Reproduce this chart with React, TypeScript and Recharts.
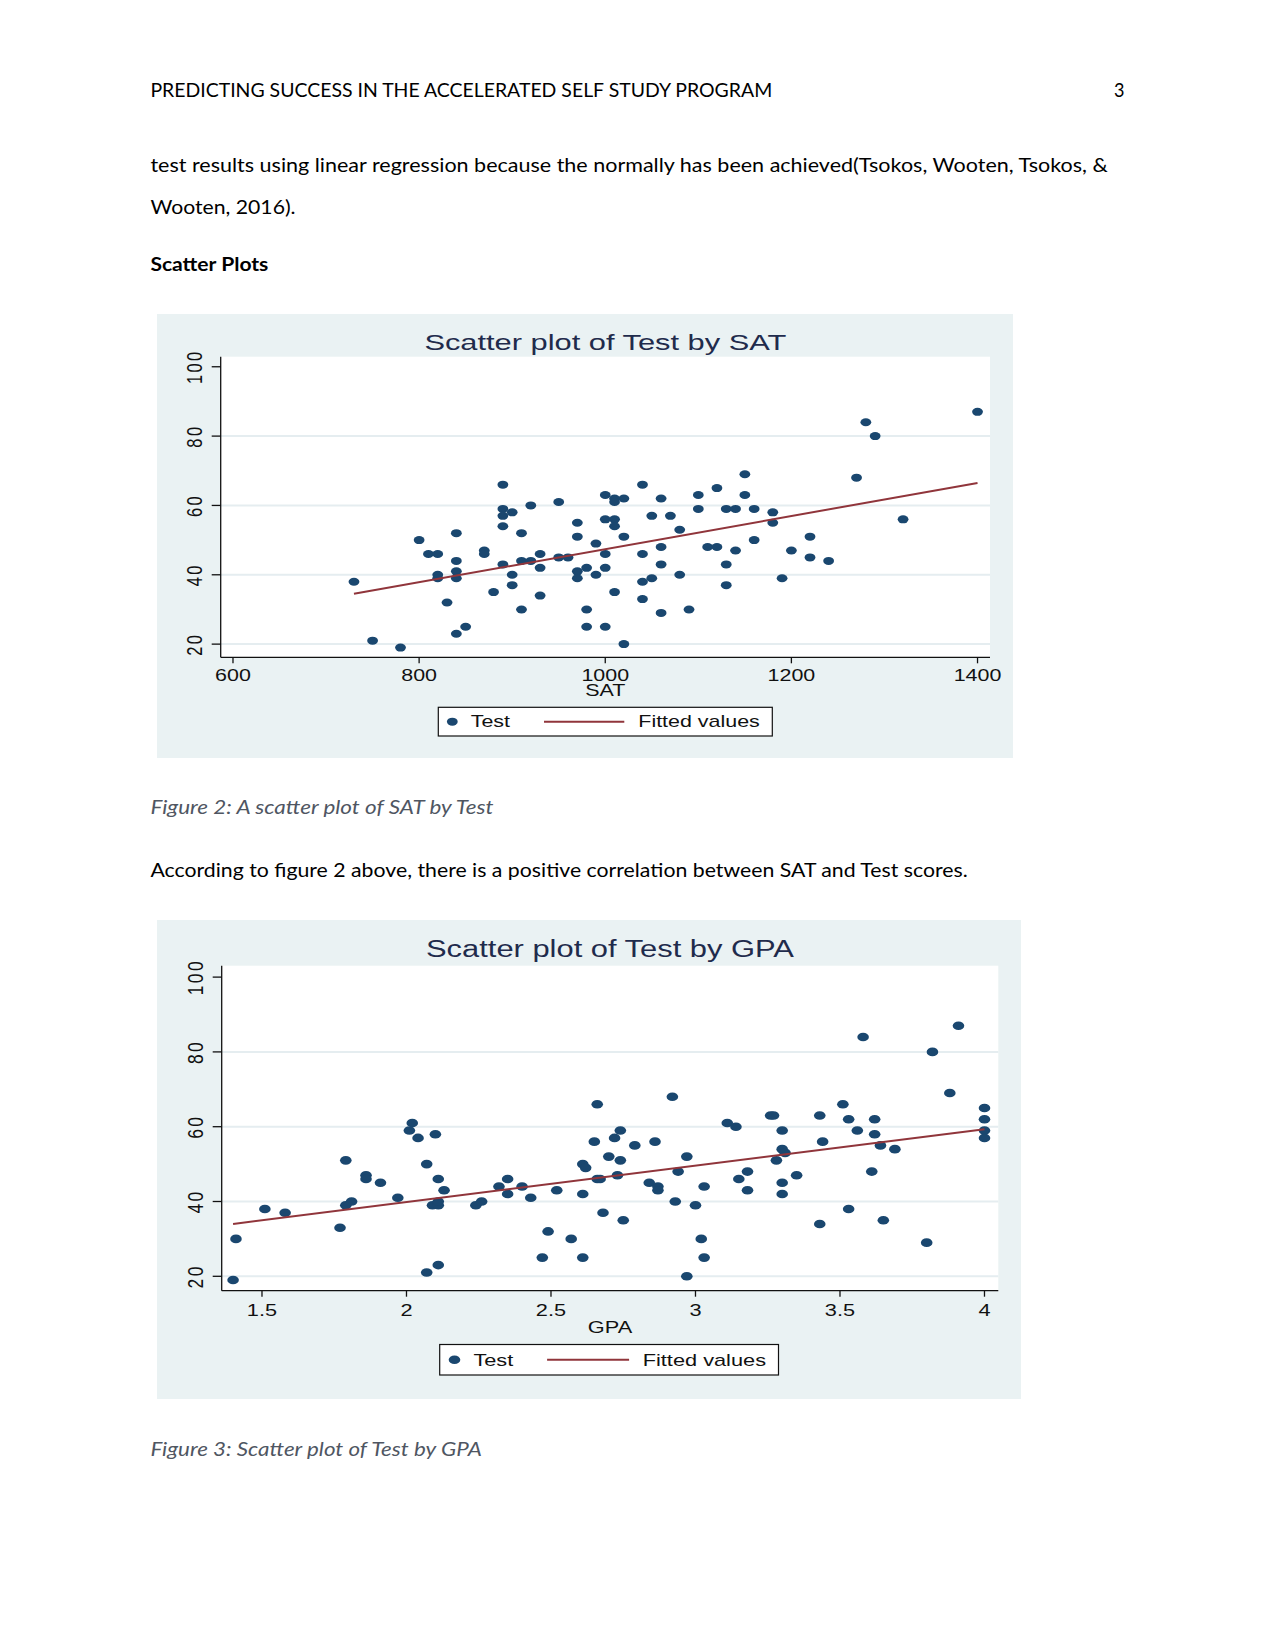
import React from 'react';
import { ScatterChart, Scatter, XAxis, YAxis, CartesianGrid } from 'recharts';

// ---------- data ----------
const satValues = [
  730, 750, 780, 800, 810,
  820, 820, 820, 830,
  840, 840, 840, 840, 840, 850,
  870, 870, 880,
  890, 890, 890, 890, 890,
  900, 900, 900, 910, 910, 910,
  920, 920, 930, 930, 930,
  950, 950, 960,
  970, 970, 970, 970,
  980, 980, 980, 990, 990,
  1000, 1000, 1000, 1000, 1000,
  1010, 1010, 1010, 1010, 1010,
  1020, 1020, 1020,
  1040, 1040, 1040, 1040, 1050, 1050,
  1060, 1060, 1060, 1060, 1070, 1080, 1080, 1090,
  1100, 1100, 1110, 1120, 1120,
  1130, 1130, 1130, 1140, 1140,
  1150, 1150, 1160, 1160, 1180, 1180,
  1190, 1200, 1220, 1220, 1240,
  1270, 1280, 1290, 1320, 1400,
];
const satTestScores = [
  38, 21, 19, 50, 46,
  46, 40, 39, 32,
  52, 44, 41, 39, 23, 25,
  47, 46, 35,
  66, 59, 57, 54, 43,
  58, 40, 37, 52, 44, 30,
  60, 44, 46, 42, 34,
  61, 45, 45,
  55, 51, 41, 39,
  42, 30, 25, 49, 40,
  63, 56, 46, 42, 25,
  62, 61, 56, 54, 35,
  62, 51, 20,
  66, 46, 38, 33, 57, 39,
  62, 48, 43, 29, 57, 53, 40, 30,
  63, 59, 48, 65, 48,
  59, 43, 37, 59, 47,
  69, 63, 59, 50, 58, 55,
  39, 47, 51, 45, 44,
  68, 84, 80, 56, 87,
];
const gpaValues = [
  1.4, 1.41, 1.51, 1.58, 1.77, 1.79, 1.79, 1.81, 1.86, 1.86,
  1.91, 1.97, 2.01, 2.02, 2.04, 2.07, 2.07, 2.1, 2.09, 2.11,
  2.11, 2.11, 2.13, 2.11, 2.24, 2.26, 2.32, 2.35, 2.35, 2.4,
  2.43, 2.47, 2.49, 2.52, 2.57, 2.61, 2.61, 2.62, 2.61, 2.65,
  2.66, 2.66, 2.67, 2.68, 2.7, 2.72, 2.73, 2.74, 2.74, 2.75,
  2.79, 2.84, 2.86, 2.87, 2.87, 2.92, 2.93, 2.94, 2.97, 2.97,
  3.0, 3.02, 3.03, 3.03, 3.11, 3.14, 3.15, 3.18, 3.18, 3.26,
  3.27, 3.28, 3.3, 3.3, 3.31, 3.3, 3.3, 3.35, 3.43, 3.43,
  3.44, 3.51, 3.53, 3.53, 3.56, 3.58, 3.61, 3.62, 3.62, 3.64,
  3.65, 3.69, 3.8, 3.82, 3.88, 3.91, 4.0, 4.0, 4.0, 4.0,
];
const gpaTestScores = [
  19, 30, 38, 37, 33, 51, 39, 40, 47, 46,
  45, 41, 59, 61, 57, 50, 21, 58, 39, 39,
  40, 46, 43, 23, 39, 40, 44, 46, 42, 44,
  41, 25, 32, 43, 30, 25, 50, 49, 42, 56,
  66, 46, 46, 37, 52, 57, 47, 59, 51, 35,
  55, 45, 56, 44, 43, 68, 40, 48, 52, 20,
  39, 30, 44, 25, 61, 60, 46, 48, 43, 63,
  63, 51, 59, 54, 53, 45, 42, 47, 63, 34,
  56, 66, 62, 38, 59, 84, 48, 62, 58, 55,
  35, 54, 29, 80, 69, 87, 65, 62, 59, 57,
];
const satFitX = [730, 1400];
const satFitY = [34.5, 66.5];
const gpaFitX = [1.4, 4.0];
const gpaFitY = [34.0, 59.3];

const satTicks = [600, 800, 1000, 1200, 1400];
const satTickLabels = ['600', '800', '1000', '1200', '1400'];
const gpaTicks = [1.5, 2, 2.5, 3, 3.5, 4];
const gpaTickLabels = ['1.5', '2', '2.5', '3', '3.5', '4'];
const testTicks = [20, 40, 60, 80, 100];
const gridValues = [20, 40, 60, 80];

const legendLabels = ['Test', 'Fitted values'];

// ---------- styles ----------
const NAVY = '#1a476f';
const MAROON = '#90353b';
const BG = '#eaf2f3';
const GRID = '#e5edf0';
const AXIS = '#111111';
const TITLE_COLOR = '#1f2b4c';
const CHART_FONT = '"Liberation Sans", Arial, sans-serif';
const PAGE_FONT = 'Lato, "Open Sans", sans-serif';

type Cfg = {
  left: number; top: number; width: number; height: number;
  plotL: number; plotT: number; plotR: number; plotB: number;
  xDomain: [number, number]; yDomain: [number, number];
  fs: number; sx: number; titleFs: number; titleSx: number; titleBase: number;
  tickBase: number; xTitleBase: number; yLabelOff: number;
  rx: number; ry: number;
  lx: number; ly: number; lw: number; lh: number;
  dDot: number; dTest: number; dL1: number; dL2: number; dFit: number; dBase: number;
};

const cfgSat: Cfg = {
  left: 157, top: 314, width: 856, height: 444,
  plotL: 63.7, plotT: 42.7, plotR: 23, plotB: 100.7,
  xDomain: [586.8, 1413.4], yDomain: [16.2, 102.9],
  fs: 16, sx: 1.34, titleFs: 22.5, titleSx: 1.37, titleBase: 35.5,
  tickBase: 366.7, xTitleBase: 382, yLabelOff: 26.4,
  rx: 5.4, ry: 4.0,
  lx: 281.3, ly: 393.3, lw: 334, lh: 28.7,
  dDot: 14, dTest: 32.4, dL1: 105.7, dL2: 186, dFit: 200, dBase: 20,
};

const cfgGpa: Cfg = {
  left: 157, top: 920, width: 864, height: 479,
  plotL: 64.7, plotT: 45.7, plotR: 22.7, plotB: 108.3,
  xDomain: [1.3606, 4.0478], yDomain: [16.15, 103.05],
  fs: 17, sx: 1.28, titleFs: 23.5, titleSx: 1.315, titleBase: 37.3,
  tickBase: 396, xTitleBase: 413, yLabelOff: 26.4,
  rx: 5.8, ry: 4.3,
  lx: 282.7, ly: 424.5, lw: 338.8, lh: 30.5,
  dDot: 14.8, dTest: 33.7, dL1: 107.4, dL2: 189.4, dFit: 203, dBase: 21.5,
};

function StataScatter(props: {
  cfg: Cfg; xs: number[]; ys: number[]; fitX: number[]; fitY: number[];
  xTicks: number[]; xLabels: string[]; title: string; xTitle: string;
}) {
  const { cfg, xs, ys, fitX, fitY, xTicks, xLabels, title, xTitle } = props;
  const data = xs.map((x, i) => ({ x, y: ys[i] }));
  const fit = fitX.map((x, i) => ({ x, y: fitY[i] }));
  const plotW = cfg.width - cfg.plotL - cfg.plotR;
  const cx = cfg.plotL + plotW / 2;

  const XTick = (p: any) => {
    const idx = xTicks.indexOf(p.payload.value);
    const label = idx >= 0 ? xLabels[idx] : String(p.payload.value);
    return (
      <text
        transform={`translate(${p.x},${cfg.tickBase}) scale(${cfg.sx},1)`}
        textAnchor="middle" fontSize={cfg.fs} fontFamily={CHART_FONT} fill="#111"
      >{label}</text>
    );
  };
  const YTick = (p: any) => (
    <text
      transform={`translate(${cfg.plotL - cfg.yLabelOff},${p.y}) scale(${cfg.sx},1) rotate(-90)`}
      textAnchor="middle" dominantBaseline="central" fontSize={cfg.fs + 0.5}
      fontFamily={CHART_FONT} letterSpacing={2.4} fill="#111"
    >{String(p.payload.value)}</text>
  );
  const Dot = (p: any) => (
    <ellipse cx={p.cx} cy={p.cy} rx={cfg.rx} ry={cfg.ry} fill={NAVY} />
  );
  const NoDot = () => <g />;

  const midY = cfg.ly + cfg.lh / 2;
  return (
    <div style={{ position: 'absolute', left: cfg.left, top: cfg.top, width: cfg.width, height: cfg.height, background: BG }}>
      <ScatterChart width={cfg.width} height={cfg.height}
        margin={{ top: cfg.plotT, right: cfg.plotR, bottom: 0, left: 0 }}>
        <CartesianGrid fill="#ffffff" fillOpacity={1} vertical={false} horizontal={true}
          horizontalValues={gridValues} stroke={GRID} strokeWidth={2} />
        <XAxis type="number" dataKey="x" domain={cfg.xDomain} ticks={xTicks} interval={0}
          allowDataOverflow height={cfg.plotB} tickSize={6} tickMargin={2} tick={XTick}
          axisLine={{ stroke: AXIS, strokeWidth: 1.3 }} tickLine={{ stroke: AXIS, strokeWidth: 1.3 }} />
        <YAxis type="number" dataKey="y" domain={cfg.yDomain} ticks={testTicks} interval={0}
          allowDataOverflow width={cfg.plotL} tickSize={9} tickMargin={2} tick={YTick}
          axisLine={{ stroke: AXIS, strokeWidth: 1.3 }} tickLine={{ stroke: AXIS, strokeWidth: 1.3 }} />
        <Scatter data={data} shape={Dot} isAnimationActive={false} />
        <Scatter data={fit} shape={NoDot} line={{ stroke: MAROON, strokeWidth: 2 }} isAnimationActive={false} />
      </ScatterChart>
      <svg width={cfg.width} height={cfg.height}
        style={{ position: 'absolute', left: 0, top: 0, pointerEvents: 'none' }}>
        <text transform={`translate(${cx},${cfg.titleBase}) scale(${cfg.titleSx},1)`}
          textAnchor="middle" fontSize={cfg.titleFs} fontFamily={CHART_FONT} fill={TITLE_COLOR}>{title}</text>
        <text transform={`translate(${cx},${cfg.xTitleBase}) scale(${cfg.sx},1)`}
          textAnchor="middle" fontSize={cfg.fs} fontFamily={CHART_FONT} fill="#111">{xTitle}</text>
        <rect x={cfg.lx} y={cfg.ly} width={cfg.lw} height={cfg.lh} fill="#ffffff" stroke="#111" strokeWidth={1.2} />
        <ellipse cx={cfg.lx + cfg.dDot} cy={midY} rx={cfg.rx} ry={cfg.ry} fill={NAVY} />
        <text transform={`translate(${cfg.lx + cfg.dTest},${cfg.ly + cfg.dBase}) scale(${cfg.sx},1)`}
          fontSize={cfg.fs} fontFamily={CHART_FONT} fill="#111">{legendLabels[0]}</text>
        <line x1={cfg.lx + cfg.dL1} x2={cfg.lx + cfg.dL2} y1={midY} y2={midY} stroke={MAROON} strokeWidth={2} />
        <text transform={`translate(${cfg.lx + cfg.dFit},${cfg.ly + cfg.dBase}) scale(${cfg.sx},1)`}
          fontSize={cfg.fs} fontFamily={CHART_FONT} fill="#111">{legendLabels[1]}</text>
      </svg>
    </div>
  );
}

function PageText(p: { x: number; y: number; w: number; children: string; size?: number; weight?: number; italic?: boolean; color?: string }) {
  return (
    <text x={p.x} y={p.y} textLength={p.w} lengthAdjust="spacingAndGlyphs"
      fontSize={p.size ?? 19} fontFamily={PAGE_FONT} fontWeight={p.weight ?? 400}
      fontStyle={p.italic ? 'italic' : 'normal'} fill={p.color ?? '#000'}>{p.children}</text>
  );
}

export default function App() {
  return (
    <div style={{ position: 'absolute', left: 0, top: 0, width: 1275, height: 1650, background: '#fff', overflow: 'hidden' }}>
      <svg width={1275} height={1650} style={{ position: 'absolute', left: 0, top: 0 }}>
        <PageText x={150.4} y={96.6} w={621.8} size={18.5}>PREDICTING SUCCESS IN THE ACCELERATED SELF STUDY PROGRAM</PageText>
        <PageText x={1114} y={96.6} w={10.5} size={18.5}>3</PageText>
        <PageText x={150.4} y={171.5} w={957.4}>test results using linear regression because the normally has been achieved(Tsokos, Wooten, Tsokos, &amp;</PageText>
        <PageText x={150.4} y={213.5} w={145.2}>Wooten, 2016).</PageText>
        <PageText x={150.4} y={271} w={118} weight={700}>Scatter Plots</PageText>
        <PageText x={150.4} y={814.3} w={343} italic color="#4f5662">Figure 2: A scatter plot of SAT by Test</PageText>
        <PageText x={150.4} y={876.7} w={817.4}>According to figure 2 above, there is a positive correlation between SAT and Test scores.</PageText>
        <PageText x={150.4} y={1455.8} w={331.4} italic color="#4f5662">Figure 3: Scatter plot of Test by GPA</PageText>
      </svg>
      <StataScatter cfg={cfgSat} xs={satValues} ys={satTestScores} fitX={satFitX} fitY={satFitY}
        xTicks={satTicks} xLabels={satTickLabels} title="Scatter plot of Test by SAT" xTitle="SAT" />
      <StataScatter cfg={cfgGpa} xs={gpaValues} ys={gpaTestScores} fitX={gpaFitX} fitY={gpaFitY}
        xTicks={gpaTicks} xLabels={gpaTickLabels} title="Scatter plot of Test by GPA" xTitle="GPA" />
    </div>
  );
}
